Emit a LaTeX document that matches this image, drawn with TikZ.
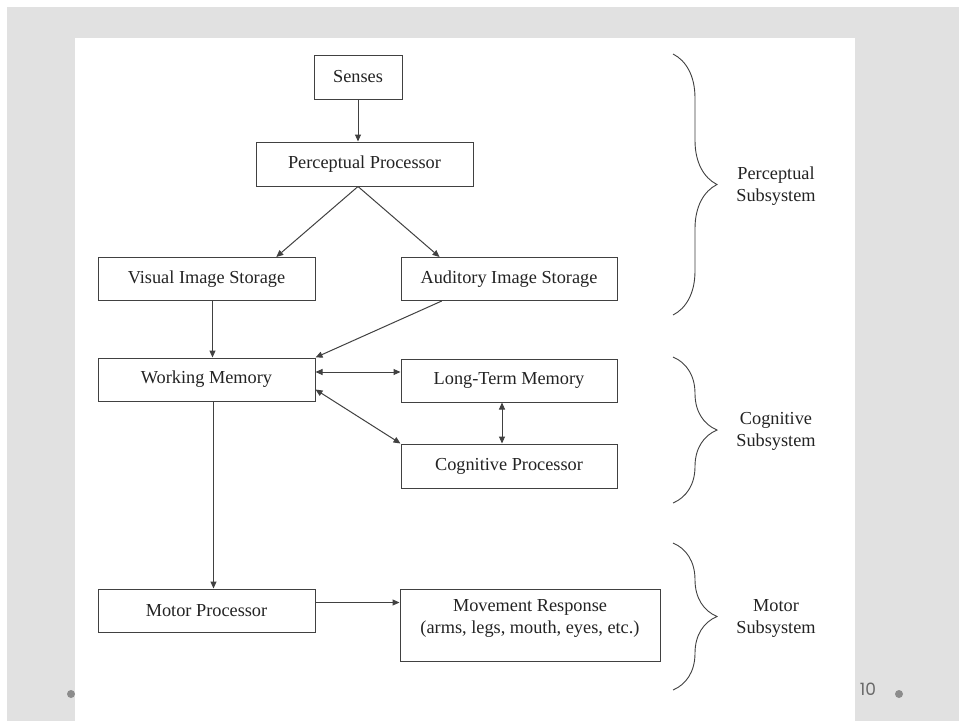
\documentclass[tikz,border=0pt]{standalone}
\usepackage{fontspec}
\setmainfont{Liberation Serif}
\newfontfamily\pagenumfont{Poppins}
\usepackage{tikz}
\usepackage{xcolor}
\usetikzlibrary{positioning,calc,arrows.meta,decorations.pathreplacing}

\definecolor{slidegrey}{RGB}{225,225,225}
\definecolor{boxline}{RGB}{65,65,65}
\definecolor{ink}{RGB}{35,35,35}
\definecolor{dotgrey}{RGB}{140,140,140}
\definecolor{numgrey}{RGB}{105,105,105}

\begin{document}
\begin{tikzpicture}[x=1pt,y=-1pt]
\tikzstyle{every node}+=[inner sep=0pt]
\tikzstyle{box}=[draw=boxline, line width=1pt, minimum height=44pt, align=center,
  text=ink, font=\fontsize{18.3}{22}\selectfont]
\tikzstyle{link}=[draw=boxline, line width=1pt, -{Triangle[length=7pt,width=6pt]}]
\tikzstyle{twolink}=[draw=boxline, line width=1pt,
  {Triangle[length=7pt,width=6pt]}-{Triangle[length=7pt,width=6pt]}]
\tikzstyle{sysbrace}=[draw=boxline, line width=0.9pt, decorate,
  decoration={brace, amplitude=44pt}]
\tikzstyle{syslabel}=[align=center, text=ink, font=\fontsize{18.3}{22}\selectfont]
\useasboundingbox (0,0) rectangle (959,721);
% slide background
\fill[white] (0,0) rectangle (959,721);
\fill[slidegrey] (7,7) rectangle (959,721);
\fill[white] (75,38) rectangle (855,721);
\fill[dotgrey] (71,694) circle (4pt);
\fill[dotgrey] (899,694) circle (4pt);
\node[text=numgrey, font=\pagenumfont\fontsize{17}{19}\selectfont] (pagenum) at (868,689) {10};
% boxes
\node[box, minimum width=88pt] (senses) at (358,77) {Senses};
\node[box, minimum width=217pt] (pp) at (364.5,164) {Perceptual Processor};
\node[box, minimum width=217pt, minimum height=43pt] (vis) at (206.5,279) {Visual Image Storage};
\node[box, minimum width=216pt, minimum height=43pt] (ais) at (509,279) {Auditory Image Storage};
\node[box, minimum width=217pt, minimum height=43pt] (wm) at (206.5,379.5) {Working Memory};
\node[box, minimum width=216pt, minimum height=43pt] (ltm) at (509,380.5) {Long-Term Memory};
\node[box, minimum width=216pt] (cp) at (509,466) {Cognitive Processor};
\node[box, minimum width=217pt, minimum height=43pt] (mp) at (206.5,610.5) {Motor Processor};
\node[box, minimum width=260pt, minimum height=72pt, text depth=17pt] (mr) at (530,625)
  {Movement Response\\(arms, legs, mouth, eyes, etc.)};
% connectors
\coordinate (ppOut) at (senses |- pp.south);
\coordinate (wmTop) at ([yshift=7.5pt]wm.east);
\coordinate (wmLow) at ([yshift=-10pt]wm.east);
\coordinate (ltmLow) at ([xshift=-7pt]ltm.south);
\coordinate (mpOut) at ([yshift=8pt]mp.east);
\draw[link] (senses) -- (senses |- pp.north);
\draw[link] (ppOut) -- ($(vis.north west)!0.82!(vis.north east)$);
\draw[link] (ppOut) -- ($(ais.north west)!0.18!(ais.north east)$);
\draw[link] ([xshift=6pt]vis.south) -- ([xshift=6pt]wm.north);
\draw[link] ($(ais.south west)!0.19!(ais.south east)$) -- (wm.north east);
\draw[twolink] (wmTop) -- (wmTop -| ltm.west);
\draw[twolink] (wmLow) -- (cp.north west);
\draw[twolink] (ltmLow) -- (ltmLow |- cp.north);
\draw[link] ([xshift=7pt]wm.south) -- ([xshift=7pt]mp.north);
\draw[link] (mpOut) -- (mpOut -| mr.west);
% subsystem braces
\draw[sysbrace] (673,54) -- (673,315);
\draw[sysbrace] (673,357) -- (673,503);
\draw[sysbrace] (673,543) -- (673,690);
\node[syslabel] (percsys) at (776,186) {Perceptual\\Subsystem};
\node[syslabel] (cogsys) at (776,431) {Cognitive\\Subsystem};
\node[syslabel] (motorsys) at (776,618) {Motor\\Subsystem};
\end{tikzpicture}
\end{document}
